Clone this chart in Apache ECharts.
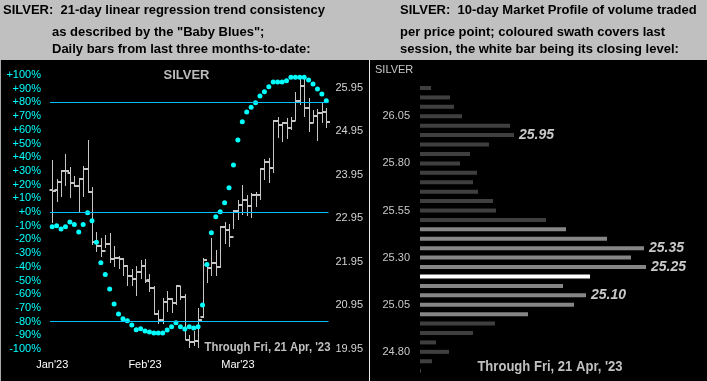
<!DOCTYPE html>
<html>
<head>
<meta charset="utf-8">
<script src="https://cdn.jsdelivr.net/npm/echarts@6/dist/echarts.min.js"></script>
<style>
html,body{margin:0;padding:0;background:#000;}
#chart{width:707px;height:381px;}
</style>
</head>
<body>
<div id="chart"></div>
<script>
// ---------- Left panel: daily bars (Jan 23 - Apr 21, 2023) ----------
var dates = [
 "2023-01-23","2023-01-24","2023-01-25","2023-01-26","2023-01-27","2023-01-30","2023-01-31",
 "2023-02-01","2023-02-02","2023-02-03","2023-02-06","2023-02-07","2023-02-08","2023-02-09","2023-02-10",
 "2023-02-13","2023-02-14","2023-02-15","2023-02-16","2023-02-17","2023-02-21","2023-02-22","2023-02-23",
 "2023-02-24","2023-02-27","2023-02-28",
 "2023-03-01","2023-03-02","2023-03-03","2023-03-06","2023-03-07","2023-03-08","2023-03-09","2023-03-10",
 "2023-03-13","2023-03-14","2023-03-15","2023-03-16","2023-03-17","2023-03-20","2023-03-21","2023-03-22",
 "2023-03-23","2023-03-24","2023-03-27","2023-03-28","2023-03-29","2023-03-30","2023-03-31",
 "2023-04-03","2023-04-04","2023-04-05","2023-04-06","2023-04-10","2023-04-11","2023-04-12","2023-04-13",
 "2023-04-14","2023-04-17","2023-04-18","2023-04-19","2023-04-20","2023-04-21"
];
var monthTickIndex = [0, 21, 42];
var monthTickLabels = ["Jan'23", "Feb'23", "Mar'23"];

var opens = [23.60,23.60,23.79,24.04,24.00,23.75,23.70,23.84,24.09,23.55,
 22.41,22.32,22.20,22.36,22.01,22.03,22.01,21.85,21.63,21.56,
 21.72,21.86,21.53,21.34,20.75,20.61,21.03,21.09,20.99,21.38,
 21.15,20.15,20.11,20.13,20.68,21.88,21.80,21.91,21.82,22.75,
 22.69,22.52,23.12,23.25,23.37,23.24,23.48,23.48,24.07,24.25,
 24.11,25.19,25.09,25.15,25.03,25.19,25.65,25.99,25.48,25.15,
 25.31,25.36,25.38];
var highs = [24.29,23.85,24.06,24.43,24.13,23.92,23.87,24.15,24.75,23.66,
 22.63,22.49,22.56,22.61,22.31,22.08,22.03,21.87,21.78,21.84,
 21.99,22.01,21.67,21.39,20.84,21.11,21.28,21.11,21.41,21.39,
 21.21,20.26,20.36,20.88,22.03,21.91,22.50,22.22,22.77,22.87,
 22.81,23.14,23.37,23.71,23.48,23.54,23.56,24.10,24.31,24.33,
 25.21,25.28,25.17,25.25,25.28,25.84,26.17,26.24,25.71,25.44,
 25.45,25.59,25.48];
var lows = [22.85,23.33,23.44,23.69,23.41,23.66,23.06,23.44,23.52,22.33,
 22.18,22.06,22.26,21.93,21.83,21.79,21.61,21.40,21.39,21.17,
 21.56,21.45,21.26,20.72,20.52,20.52,20.80,20.78,20.95,21.07,
 20.15,19.96,20.02,19.96,20.65,21.45,21.61,21.62,21.80,22.36,
 22.29,22.70,22.92,23.02,23.00,22.96,23.21,23.37,23.83,23.75,
 23.98,24.79,24.71,24.76,24.98,25.19,25.55,25.28,24.94,25.13,
 24.73,25.13,25.02];
var closes = [23.58,23.79,24.04,24.04,23.75,23.69,23.84,24.09,23.55,22.41,
 22.32,22.20,22.36,22.01,22.03,22.01,21.85,21.63,21.56,21.72,
 21.85,21.51,21.34,20.75,20.61,21.03,21.09,20.99,21.40,21.15,
 20.15,20.11,20.13,20.61,21.99,21.80,21.91,21.82,22.75,22.69,
 22.52,23.12,23.25,23.37,23.24,23.48,23.48,24.07,24.25,24.11,
 25.19,25.09,25.15,25.03,25.19,25.65,25.99,25.48,25.15,25.31,
 25.36,25.38,25.17];
// 21-day linear regression trend consistency ("Baby Blues"), percent
var trendConsistency = [-10.7,-10,-12.4,-10.7,-7.3,-9.2,-14.6,-9.2,-0.5,-6.3,
 -22,-37,-45.7,-56.2,-67.2,-74.5,-77.9,-79.3,-82.5,-85.9,
 -85.2,-86.9,-87.6,-88.3,-88.3,-88.3,-86.1,-83.7,-80.8,-83.7,
 -85.4,-83.7,-84.7,-83.7,-67.9,-38.4,-15.1,-3.5,0.2,6.8,
 17.7,34.3,52.6,65.9,73,76.4,79.8,84.7,87.8,91.5,
 94.9,94.9,94.9,95.8,98.3,98.3,98.3,98.3,96.4,93.4,
 89.8,86.1,81.2];
var referenceLevels = [80, 0, -80];

// ---------- Right panel: 10-day market profile ----------
var profileLevels = ["26.20","26.15","26.10","26.05","26.00","25.95","25.90","25.85","25.80","25.75",
 "25.70","25.65","25.60","25.55","25.50","25.45","25.40","25.35","25.30","25.25",
 "25.20","25.15","25.10","25.05","25.00","24.95","24.90","24.85","24.80","24.75","24.70"];
var profileVolume = [11,30,34,42,90,94,69,50,40,57,
 53,58,73,76,126,146,187,224,211,226,
 170,143,166,154,108,75,53,16,29,12,1];
var lastSessionHigh = 25.45, lastSessionLow = 25.00, lastSessionClose = 25.20;
var annotatedLevels = ["25.95","25.35","25.25","25.10"];

var FONT = "'Liberation Sans', Arial, sans-serif";
var chart = echarts.init(document.getElementById('chart'), null, {renderer:'canvas'});

var ohlcData = dates.map(function(d, i){ return [i, opens[i], highs[i], lows[i], closes[i]]; });
var profileData = profileLevels.map(function(lv, i){
  var p = parseFloat(lv), col;
  if (Math.abs(p - lastSessionClose) < 1e-6) col = '#ffffff';
  else if (p <= lastSessionHigh + 1e-6 && p >= lastSessionLow - 1e-6) col = '#868686';
  else col = '#3f3f3f';
  return {value: profileVolume[i], itemStyle:{color: col}};
});

var option = {
  backgroundColor: '#000',
  animation: false,
  textStyle: {fontFamily: FONT},
  grid: [
    {left: 50, top: 75, width: 278.5, height: 274},
    {left: 50, top: 87.7, width: 278.5, height: 261},
    {left: 420, top: 83.3, width: 287, height: 292.1}
  ],
  xAxis: [
    {type:'category', gridIndex:0, data: dates, boundaryGap: true,
     axisLine:{show:false}, axisTick:{show:false}, splitLine:{show:false},
     axisLabel:{color:'#ffffff', fontSize:11, margin:10, fontFamily: FONT,
       interval: function(i){ return monthTickIndex.indexOf(i) >= 0; },
       formatter: function(v, i){ var k = monthTickIndex.indexOf(i); return k >= 0 ? monthTickLabels[k] : ''; }}},
    {type:'category', gridIndex:1, data: dates, boundaryGap: true, show:false},
    {type:'value', gridIndex:2, min:0, max:287, show:false}
  ],
  yAxis: [
    {type:'value', gridIndex:0, min:-100, max:100, interval:10, position:'left',
     axisLine:{show:false}, axisTick:{show:false}, splitLine:{show:false},
     axisLabel:{color:'#00ffff', fontSize:11, margin:9, fontFamily: FONT,
       formatter: function(v){ return (v >= 0 ? '+' : '') + v + '%'; }}},
    {type:'value', gridIndex:1, min:19.95, max:25.95, interval:1, position:'right',
     axisLine:{show:false}, axisTick:{show:false}, splitLine:{show:false},
     axisLabel:{color:'#d4d4d4', fontSize:11, margin:7, fontFamily: FONT,
       formatter: function(v){ return v.toFixed(2); }}},
    {type:'category', gridIndex:2, data: profileLevels, inverse:true,
     axisLine:{show:false}, axisTick:{show:false}, splitLine:{show:false},
     axisLabel:{color:'#c8c8c8', fontSize:11, margin:10, fontFamily: FONT,
       interval: function(i){ return i % 5 === 3; }}}
  ],
  series: [
    {type:'custom', xAxisIndex:1, yAxisIndex:1, data: ohlcData, z:2, clip:false,
     encode:{x:0, y:[1,2,3,4]},
     renderItem: function(params, api){
       var i = api.value(0);
       var pO = api.coord([i, api.value(1)]);
       var pH = api.coord([i, api.value(2)]);
       var pL = api.coord([i, api.value(3)]);
       var pC = api.coord([i, api.value(4)]);
       var cx = Math.round(pH[0]) + 0.5;
       var st = {stroke:'#c6c6c6', lineWidth:1};
       var tk = {stroke:'#c6c6c6', lineWidth:2};
       return {type:'group', children:[
         {type:'line', shape:{x1:cx, y1:Math.round(pH[1]), x2:cx, y2:Math.round(pL[1])}, style:st},
         {type:'line', shape:{x1:cx-3, y1:Math.round(pO[1]), x2:cx, y2:Math.round(pO[1])}, style:tk},
         {type:'line', shape:{x1:cx, y1:Math.round(pC[1]), x2:cx+3.5, y2:Math.round(pC[1])}, style:tk}
       ]};
     }},
    {type:'scatter', xAxisIndex:0, yAxisIndex:0, data: trendConsistency, z:4,
     symbol:'circle', symbolSize:5, itemStyle:{color:'#00ffff', opacity:1},
     markLine:{silent:true, symbol:['none','none'], label:{show:false},
       lineStyle:{color:'#00c0ff', type:'solid', width:1},
       data: referenceLevels.map(function(v){ return {yAxis: v}; })}},
    {type:'bar', xAxisIndex:2, yAxisIndex:2, data: profileData, barWidth:4,
     label:{show:true, position:'right', distance:5, color:'#c8c8c8', fontSize:14,
       fontWeight:'bold', fontStyle:'italic', fontFamily: FONT,
       formatter: function(p){ return annotatedLevels.indexOf(profileLevels[p.dataIndex]) >= 0 ? profileLevels[p.dataIndex] : ''; }}}
  ],
  graphic: [
    {type:'rect', shape:{x:0, y:0, width:707, height:60}, style:{fill:'#c0c0c0'}, z:0},
    {type:'rect', shape:{x:0, y:60, width:1, height:321}, style:{fill:'#a8a8a8'}},
    {type:'rect', shape:{x:369, y:60, width:1, height:321}, style:{fill:'#e8e8e8'}},
    {type:'text', x:3, y:10.5, style:{text:'SILVER:  21-day linear regression trend consistency', fill:'#000', font:'bold 13px '+FONT, textVerticalAlign:'middle'}},
    {type:'text', x:52, y:32.5, style:{text:'as described by the "Baby Blues";', fill:'#000', font:'bold 13px '+FONT, textVerticalAlign:'middle'}},
    {type:'text', x:52, y:49.5, style:{text:'Daily bars from last three months-to-date:', fill:'#000', font:'bold 13px '+FONT, textVerticalAlign:'middle'}},
    {type:'text', x:400, y:10.5, style:{text:'SILVER:  10-day Market Profile of volume traded', fill:'#000', font:'bold 13px '+FONT, textVerticalAlign:'middle'}},
    {type:'text', x:400, y:32.5, style:{text:'per price point; coloured swath covers last', fill:'#000', font:'bold 13px '+FONT, textVerticalAlign:'middle'}},
    {type:'text', x:400, y:49.5, style:{text:'session, the white bar being its closing level:', fill:'#000', font:'bold 13px '+FONT, textVerticalAlign:'middle'}},
    {type:'text', x:186.5, y:75.7, style:{text:'SILVER', fill:'#bcbcbc', font:'bold 13px '+FONT, textAlign:'center', textVerticalAlign:'middle'}},
    {type:'text', x:375, y:70, style:{text:'SILVER', fill:'#c8c8c8', font:'11px '+FONT, textAlign:'left', textVerticalAlign:'middle'}},
    {type:'text', x:267.5, y:347.7, scaleX:0.87, style:{text:"Through Fri, 21 Apr, '23", fill:'#c0c0c0', font:'bold 13px '+FONT, textAlign:'center', textVerticalAlign:'middle'}, z:10},
    {type:'text', x:550, y:366.7, scaleX:0.87, style:{text:"Through Fri, 21 Apr, '23", fill:'#c0c0c0', font:'bold 15px '+FONT, textAlign:'center', textVerticalAlign:'middle'}, z:10}
  ]
};
chart.setOption(option);
</script>
</body>
</html>
